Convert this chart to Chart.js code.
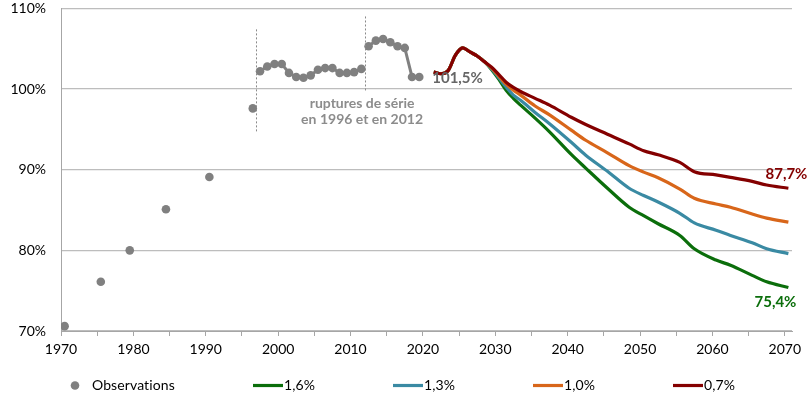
<!DOCTYPE html>
<html>
<head>
<meta charset="utf-8">
<script src="https://cdn.jsdelivr.net/npm/chart.js@4/dist/chart.umd.min.js"></script>
<style>
  html, body { margin: 0; padding: 0; background: #fff; }
</style>
</head>
<body>
<canvas id="chart" width="811" height="396"></canvas>
<script>
// observed values (%), census years then annual series
const obsYears = [1970, 1975, 1979, 1984, 1990, 1996,
  1997, 1998, 1999, 2000, 2001, 2002, 2003, 2004, 2005, 2006, 2007, 2008, 2009, 2010, 2011,
  2012, 2013, 2014, 2015, 2016, 2017, 2018, 2019];
const obsValues = [70.6, 76.1, 80.0, 85.1, 89.1, 97.6,
  102.2, 102.8, 103.1, 103.1, 102.0, 101.5, 101.4, 101.7, 102.4, 102.6, 102.6, 102.0, 102.0, 102.1, 102.5,
  105.3, 106.0, 106.2, 105.8, 105.3, 105.1, 101.5, 101.5];

// projections
const projYears = [2021, 2022, 2023, 2024, 2025, 2026, 2027, 2028, 2029, 2030, 2031, 2032, 2033, 2035,
  2037, 2040, 2042, 2045, 2048, 2050, 2052, 2055, 2057, 2060, 2062, 2065, 2067, 2070];
const proj16 = [102.1, 101.9, 102.3, 104.2, 105.1, 104.6, 104.1, 103.4, 102.4, 101.2, 99.85, 98.85, 98.0, 96.4,
  94.7, 91.9, 90.2, 87.7, 85.35, 84.3, 83.3, 81.85, 80.2, 78.8, 78.15, 76.9, 76.1, 75.4];
const proj13 = [102.1, 101.9, 102.3, 104.2, 105.1, 104.6, 104.1, 103.4, 102.5, 101.4, 100.25, 99.25, 98.6, 97.1,
  95.7, 93.4, 91.8, 89.8, 87.7, 86.8, 86.0, 84.6, 83.4, 82.5, 81.85, 80.95, 80.2, 79.6];
const proj10 = [102.1, 101.9, 102.3, 104.2, 105.1, 104.6, 104.1, 103.4, 102.6, 101.6, 100.6, 99.85, 99.25, 97.9,
  96.8, 94.9, 93.65, 92.1, 90.5, 89.7, 89.0, 87.6, 86.45, 85.75, 85.35, 84.5, 84.0, 83.5];
const proj07 = [102.1, 101.9, 102.3, 104.2, 105.1, 104.6, 104.1, 103.4, 102.7, 101.8, 100.85, 100.2, 99.7, 98.85,
  98.0, 96.5, 95.6, 94.4, 93.2, 92.35, 91.85, 90.9, 89.75, 89.35, 89.05, 88.55, 88.1, 87.7];

const seriesNames = ['Observations', '1,6%', '1,3%', '1,0%', '0,7%'];
const yTicks = [70, 80, 90, 100, 110];

const FONT = 'Lato, "Noto Sans", sans-serif';
const GRAY = '#808080';
const colors = ['#808080', '#0b6e0b', '#3a8aa3', '#d8661a', '#840000'];

// points sit in the middle of their year
const pts = (years, vals) => years.map((yr, i) => ({ x: yr + 0.5, y: vals[i] }));
const pct = v => v.toFixed(1).replace('.', ',') + '%';

const breaks = [
  { x: 1997, from: 94.6, to: 107.4 },
  { x: 2012, from: 99.7, to: 109.0 }
];

const lineSet = (label, vals, color, order) => ({
  label, data: pts(projYears, vals), borderColor: color, backgroundColor: color,
  borderWidth: 3.2, pointRadius: 0, cubicInterpolationMode: 'monotone', order
});

const decorations = {
  id: 'decorations',
  afterDatasetsDraw(chart) {
    const { ctx, scales: { x, y } } = chart;
    ctx.save();

    // series breaks
    ctx.strokeStyle = '#8a8a8a';
    ctx.lineWidth = 1;
    ctx.setLineDash([2, 2]);
    breaks.forEach(b => {
      const px = Math.round(x.getPixelForValue(b.x)) + 0.5;
      ctx.beginPath();
      ctx.moveTo(px, y.getPixelForValue(b.to));
      ctx.lineTo(px, y.getPixelForValue(b.from));
      ctx.stroke();
    });
    ctx.setLineDash([]);

    ctx.fillStyle = '#8c8c8c';
    ctx.font = 'bold 14px ' + FONT;
    ctx.textAlign = 'center';
    ctx.textBaseline = 'middle';
    const cx = x.getPixelForValue(2011.6);
    ctx.fillText('ruptures de série', cx, y.getPixelForValue(98.2));
    ctx.fillText('en 1996 et en 2012', cx, y.getPixelForValue(96.2));

    // value labels
    const obsMeta = chart.getDatasetMeta(0).data;
    const lastObs = obsMeta[obsMeta.length - 1];
    ctx.textAlign = 'left';
    ctx.font = 'bold 15px ' + FONT;
    ctx.fillStyle = '#666666';
    ctx.fillText(pct(obsValues[obsValues.length - 1]), lastObs.x + 13, lastObs.y + 1);

    ctx.textAlign = 'right';
    const red = chart.getDatasetMeta(4).data;
    const redLast = red[red.length - 1];
    ctx.fillStyle = colors[4];
    ctx.fillText(pct(proj07[proj07.length - 1]), redLast.x + 19, redLast.y - 14);

    const green = chart.getDatasetMeta(1).data;
    const greenLast = green[green.length - 1];
    ctx.fillStyle = colors[1];
    ctx.fillText(pct(proj16[proj16.length - 1]), greenLast.x + 8, greenLast.y + 15);

    ctx.restore();
  },
  afterDraw(chart) {
    const ctx = chart.ctx;
    const xs = [60, 253, 393, 533, 673];
    const yc = 385.5;
    ctx.save();
    ctx.font = '14px ' + FONT;
    ctx.letterSpacing = '0.1px'; // keeps "ti" from turning into a ligature
    ctx.textBaseline = 'middle';
    ctx.textAlign = 'left';
    seriesNames.forEach((name, i) => {
      if (i === 0) {
        ctx.fillStyle = colors[0];
        ctx.beginPath();
        ctx.arc(xs[i] + 15, yc, 4.3, 0, Math.PI * 2);
        ctx.fill();
        ctx.fillStyle = '#000';
        ctx.fillText(name, xs[i] + 32, yc);
      } else {
        ctx.strokeStyle = colors[i];
        ctx.lineWidth = 3.2;
        ctx.beginPath();
        ctx.moveTo(xs[i], yc);
        ctx.lineTo(xs[i] + 30, yc);
        ctx.stroke();
        ctx.fillStyle = '#000';
        ctx.fillText(name, xs[i] + 31, yc);
      }
    });
    ctx.restore();
  }
};

new Chart(document.getElementById('chart'), {
  type: 'line',
  data: {
    datasets: [
      {
        label: seriesNames[0],
        data: pts(obsYears, obsValues),
        borderColor: GRAY,
        backgroundColor: GRAY,
        borderWidth: 3,
        pointRadius: 4.3,
        pointBorderWidth: 0,
        pointBackgroundColor: GRAY,
        order: 0,
        segment: {
          borderColor: c => {
            const a = c.p0.parsed.x, b = c.p1.parsed.x;
            const cut = b - a > 1 || breaks.some(br => br.x > a && br.x <= b);
            return cut ? 'rgba(0,0,0,0)' : GRAY;
          }
        }
      },
      lineSet(seriesNames[1], proj16, colors[1], 4),
      lineSet(seriesNames[2], proj13, colors[2], 3),
      lineSet(seriesNames[3], proj10, colors[3], 2),
      lineSet(seriesNames[4], proj07, colors[4], 1)
    ]
  },
  options: {
    responsive: false,
    animation: false,
    layout: { padding: { top: 7, right: 19, bottom: 40, left: 0 } },
    plugins: {
      legend: { display: false },
      tooltip: { enabled: false }
    },
    scales: {
      x: {
        type: 'linear',
        min: 1970,
        max: 2071,
        border: { color: '#a6a6a6', width: 1 },
        grid: { drawOnChartArea: false, drawTicks: true, tickLength: 5, color: '#a6a6a6' },
        ticks: {
          stepSize: 5,
          includeBounds: false,
          autoSkip: false,
          maxRotation: 0,
          padding: 5,
          color: '#000',
          font: { family: FONT, size: 14 },
          callback: v => (v % 10 === 0 ? String(v) : '')
        },
        afterFit: s => { s.height = 25; }
      },
      y: {
        min: yTicks[0],
        max: yTicks[yTicks.length - 1],
        border: { display: true, color: '#a6a6a6', width: 1 },
        grid: { color: '#bdbdbd', lineWidth: 1.3, drawTicks: true, tickLength: 15, tickColor: 'rgba(0,0,0,0)' },
        afterBuildTicks: s => { s.ticks = yTicks.map(v => ({ value: v })); },
        ticks: {
          padding: 0,
          color: '#000',
          font: { family: FONT, size: 14 },
          callback: v => v + '%'
        },
        afterFit: s => { s.width = 61; }
      }
    }
  },
  plugins: [decorations]
});
</script>
</body>
</html>
